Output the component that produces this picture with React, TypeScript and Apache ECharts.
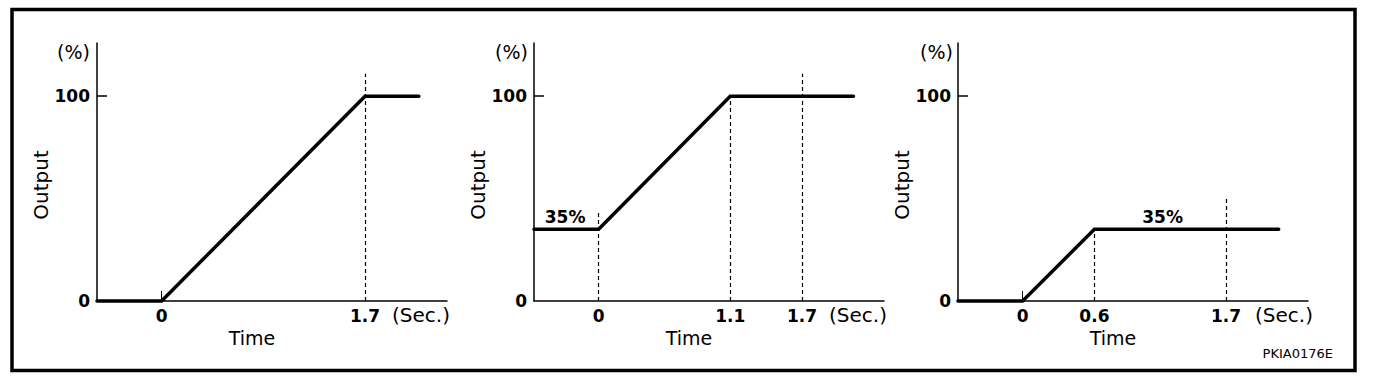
import React, { useEffect, useRef } from 'react';
import * as echarts from 'echarts';

// Panel A: 0 -> 100 % over 1.7 s
const timeA = [-0.54, 0, 1.7, 2.15];
const outA = [0, 0, 100, 100];
// Panel B: 35 % -> 100 % over 1.1 s
const timeB = [-0.54, 0, 1.1, 2.13];
const outB = [35, 35, 100, 100];
// Panel C: 0 -> 35 % over 0.6 s
const timeC = [-0.54, 0, 0.6, 2.14];
const outC = [0, 0, 35, 35];

const xTicksA = [0, 1.7];
const xTicksB = [0, 1.1, 1.7];
const xTicksC = [0, 0.6, 1.7];
const yTicks = [0, 100];

// dashed guides: [time, top output]
const guidesA = [[1.7, 111]];
const guidesB = [[0, 44], [1.1, 100], [1.7, 111]];
const guidesC = [[0.6, 35], [1.7, 51]];

// "35%" notes: [time, output]
const noteB = [-0.28, 35];
const noteC = [1.17, 35];

const FONT = 'DejaVu Sans';
const X_MIN = -0.54;
const X_MAX = 2.385;
const Y_MAX = 126;

const panels = [
  { left: 97, time: timeA, out: outA, ticks: xTicksA, guides: guidesA, note: null as number[] | null, smallTick: true },
  { left: 534, time: timeB, out: outB, ticks: xTicksB, guides: guidesB, note: noteB, smallTick: false },
  { left: 958, time: timeC, out: outC, ticks: xTicksC, guides: guidesC, note: noteC, smallTick: true },
];

export default function App() {
  const ref = useRef<HTMLDivElement>(null);
  useEffect(() => {
    if (!ref.current) return;
    const chart = echarts.init(ref.current, null, { renderer: 'svg' });
    const grids = panels.map((p) => ({ left: p.left, top: 43, width: 350, height: 258 }));
    const xAxes = panels.map((p, i) => ({
      type: 'value',
      gridIndex: i,
      min: X_MIN,
      max: X_MAX,
      name: 'Time',
      nameLocation: 'middle',
      nameGap: 27,
      nameTextStyle: { fontFamily: FONT, fontSize: 19, color: '#000', padding: [0, 40, 0, 0] },
      axisLine: { show: true, onZero: false, lineStyle: { color: '#000', width: 1.5 } },
      axisTick: { show: p.smallTick, inside: true, length: 10, customValues: [0], lineStyle: { color: '#000', width: 1 } },
      axisLabel: {
        show: true,
        customValues: p.ticks,
        margin: 6,
        fontFamily: FONT,
        fontSize: 17,
        fontWeight: 'bold',
        color: '#000',
        formatter: (v: number) => String(v),
      },
      splitLine: { show: false },
    }));
    const yAxes = panels.map((p, i) => ({
      type: 'value',
      gridIndex: i,
      min: 0,
      max: Y_MAX,
      name: 'Output',
      nameLocation: 'middle',
      nameGap: 33,
      nameTextStyle: { fontFamily: FONT, fontSize: 20, color: '#000', padding: [0, 26, 0, 0] },
      axisLine: { show: true, onZero: false, lineStyle: { color: '#000', width: 1.5 } },
      axisTick: { show: true, inside: true, length: 10, customValues: [100], lineStyle: { color: '#000', width: 1.5 } },
      axisLabel: {
        show: true,
        customValues: yTicks,
        margin: 7,
        fontFamily: FONT,
        fontSize: 17,
        fontWeight: 'bold',
        color: '#000',
      },
      splitLine: { show: false },
    }));
    const series = panels.map((p, i) => ({
      type: 'line',
      xAxisIndex: i,
      yAxisIndex: i,
      data: p.time.map((t, k) => [t, p.out[k]]),
      showSymbol: false,
      symbol: 'none',
      clip: false,
      lineStyle: { color: '#000', width: 3.5, cap: 'round', join: 'miter' },
      markLine: {
        silent: true,
        symbol: ['none', 'none'],
        label: { show: false },
        lineStyle: { color: '#000', width: 1.2, type: [4, 3] },
        data: p.guides.map((g) => [{ coord: [g[0], 0] }, { coord: [g[0], g[1]] }]),
      },
      markPoint: p.note
        ? {
            silent: true,
            symbol: 'circle',
            symbolSize: 1,
            itemStyle: { color: 'rgba(0,0,0,0)' },
            label: {
              show: true,
              position: 'top',
              distance: 3,
              formatter: '35%',
              fontFamily: FONT,
              fontSize: 17,
              fontWeight: 'bold',
              color: '#000',
            },
            data: [{ coord: p.note }],
          }
        : undefined,
    }));
    const unitText = (x: number, y: number, text: string, align: string, size: number) => ({
      type: 'text',
      x,
      y,
      style: { text, fontFamily: FONT, fontSize: size, fill: '#000', align, verticalAlign: 'middle' },
    });
    const graphic = [
      {
        type: 'rect',
        shape: { x: 12, y: 9.5, width: 1343, height: 361 },
        style: { fill: 'none', stroke: '#000', lineWidth: 3.5 },
      },
      unitText(90, 52, '(%)', 'right', 19),
      unitText(528, 52, '(%)', 'right', 19),
      unitText(953, 52, '(%)', 'right', 19),
      unitText(392, 315, '(Sec.)', 'left', 20),
      unitText(829, 315, '(Sec.)', 'left', 20),
      unitText(1255, 315, '(Sec.)', 'left', 20),
      {
        type: 'text',
        x: 1333,
        y: 353,
        style: { text: 'PKIA0176E', fontFamily: FONT, fontSize: 13, fill: '#000', align: 'right', verticalAlign: 'middle' },
      },
    ];
    chart.setOption({
      animation: false,
      backgroundColor: '#fff',
      grid: grids,
      xAxis: xAxes,
      yAxis: yAxes,
      series,
      graphic,
    });
    return () => chart.dispose();
  }, []);
  return (
    <div style={{ position: 'absolute', left: 0, top: 0, width: 1376, height: 382, background: '#fff' }}>
      <div ref={ref} style={{ width: 1376, height: 382 }} />
    </div>
  );
}
